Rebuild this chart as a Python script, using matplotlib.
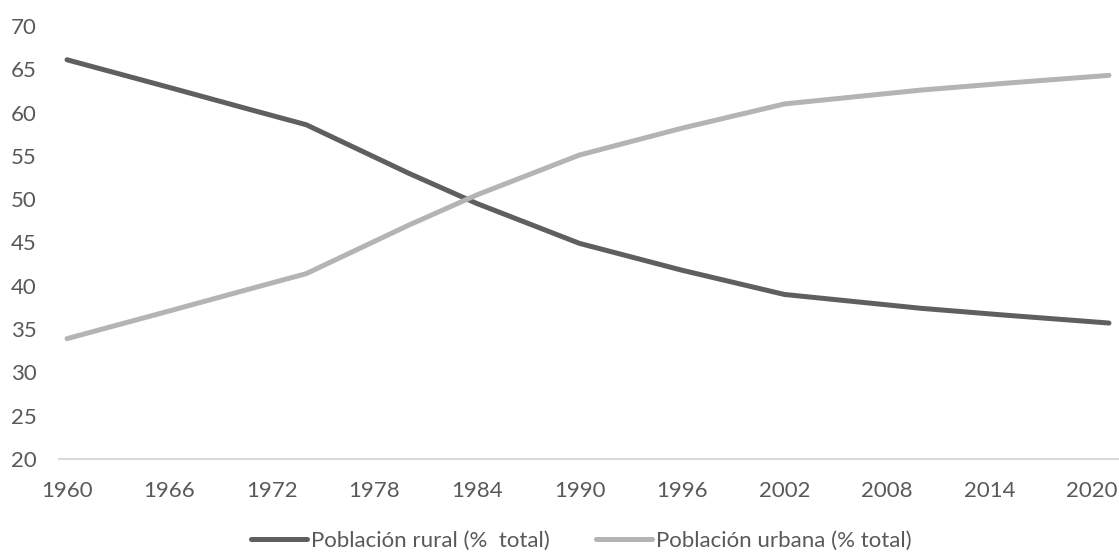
import matplotlib.pyplot as plt

years = [1960, 1966, 1971, 1974, 1977, 1980, 1984, 1990, 1996, 2002, 2005, 2010, 2015, 2021]
rural = [66.1, 62.9, 60.2, 58.6, 55.8, 53.0, 49.5, 44.9, 41.8, 39.0, 38.4, 37.4, 36.6, 35.7]
urbana = [33.9, 37.1, 39.8, 41.4, 44.2, 47.0, 50.5, 55.1, 58.2, 61.0, 61.6, 62.6, 63.4, 64.3]
xticks = list(range(1960, 2021, 6))
yticks = list(range(20, 71, 5))

TXT = "#595959"
plt.rcParams["font.family"] = ["Lato", "DejaVu Sans"]

fig = plt.figure(figsize=(11.19, 5.54), dpi=100)
ax = fig.add_axes([58.5 / 1119, 1 - 459 / 554, (1117.5 - 58.5) / 1119, (459 - 26) / 554])

ax.plot(years, rural, color="#5f5f5f", lw=3.6, solid_capstyle="round",
        solid_joinstyle="round", label="Población rural (%  total)")
ax.plot(years, urbana, color="#b4b4b4", lw=3.6, solid_capstyle="round",
        solid_joinstyle="round", label="Población urbana (% total)")

ax.set_xlim(1959.5, 2021.5)
ax.set_ylim(20, 70)
ax.set_xticks(xticks)
ax.set_yticks(yticks)
ax.tick_params(axis="both", length=0, labelsize=16, colors=TXT)
ax.tick_params(axis="y", pad=16)
ax.tick_params(axis="x", pad=16)
for side in ("top", "right", "left"):
    ax.spines[side].set_visible(False)
ax.spines["bottom"].set_color("#d9d9d9")
ax.spines["bottom"].set_linewidth(1.5)
ax.spines["bottom"].set_zorder(0)

leg = fig.legend(loc="center", bbox_to_anchor=(581.5 / 1119, 1 - 541 / 554), ncol=2, frameon=False,
                 fontsize=16, handlelength=2.5, handletextpad=0.2, columnspacing=2.1)
for t in leg.get_texts():
    t.set_color(TXT)

fig.savefig("out.png", dpi=100)
